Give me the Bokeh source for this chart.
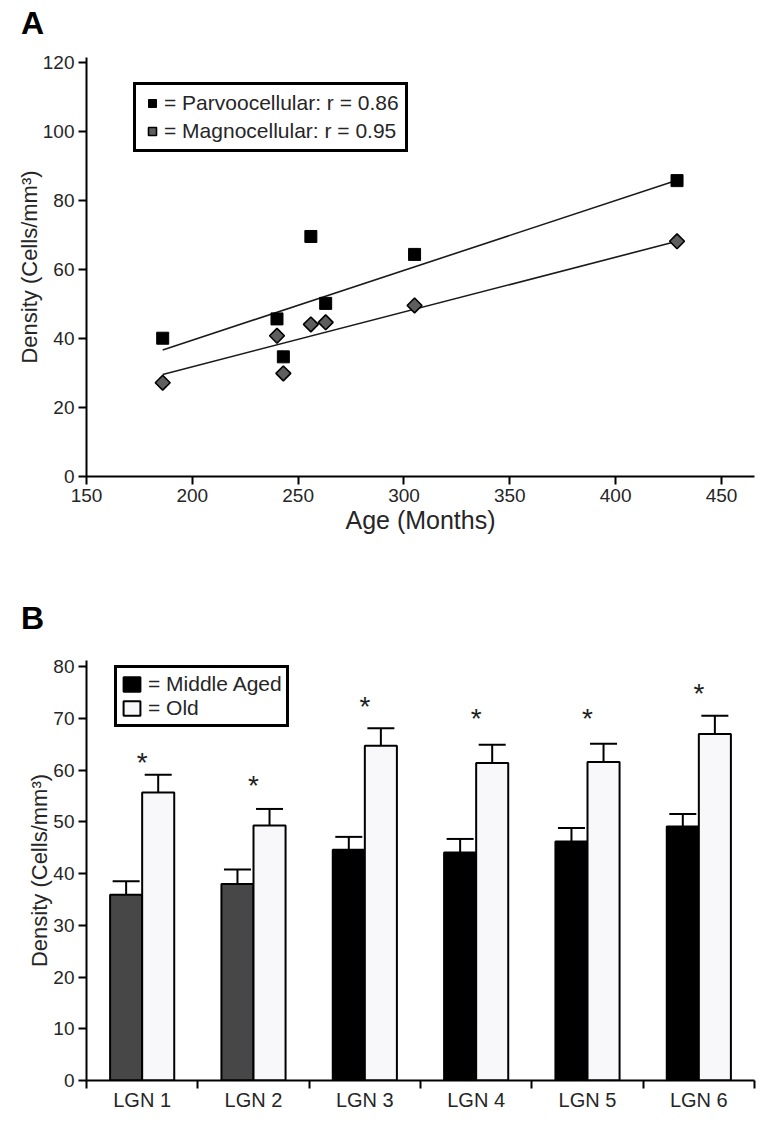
import numpy as np
from bokeh.plotting import figure
from bokeh.layouts import column
from bokeh.models import (Range1d, FixedTicker, Legend, LegendItem, Whisker, TeeHead,
                          ColumnDataSource, Div)
from bokeh.core.properties import value
from bokeh.embed import file_html
from bokeh.resources import INLINE

# ---------------- data: panel A ----------------
age_months = [186, 240, 243, 256, 263, 305, 429]
parvo_density = [40.1, 45.7, 34.7, 69.6, 50.2, 64.4, 85.8]
magno_density = [27.2, 40.8, 29.9, 44.1, 44.7, 49.6, 68.2]
fit_age = [186, 429]
parvo_fit = [36.7, 85.9]
magno_fit = [29.6, 68.2]
series_labels = ["= Parvoocellular: r = 0.86", "= Magnocellular: r = 0.95"]
a_xticks = [150, 200, 250, 300, 350, 400, 450]
a_yticks = [0, 20, 40, 60, 80, 100, 120]

# ---------------- data: panel B ----------------
lgn_layers = ["LGN 1", "LGN 2", "LGN 3", "LGN 4", "LGN 5", "LGN 6"]
middle_mean = [35.9, 38.0, 44.6, 44.1, 46.2, 49.1]
middle_err = [2.6, 2.8, 2.5, 2.6, 2.6, 2.4]
old_mean = [55.7, 49.3, 64.7, 61.4, 61.6, 67.0]
old_err = [3.4, 3.2, 3.4, 3.5, 3.5, 3.5]
star_level = [62.2, 57.8, 73.1, 70.7, 70.7, 75.5]
group_labels = ["= Middle Aged", "= Old"]
b_yticks = [0, 10, 20, 30, 40, 50, 60, 70, 80]

# ---------------- styles ----------------
FONT = "Liberation Sans"
TXT = "#262626"
middle_colors = ["#474747", "#474747", "black", "black", "black", "black"]


def style_fig(p):
    p.xgrid.visible = False
    p.ygrid.visible = False
    p.outline_line_color = None
    p.background_fill_color = "white"
    p.border_fill_color = "white"
    for ax in p.axis:
        ax.axis_line_width = 2
        ax.axis_line_color = "black"
        ax.major_tick_line_width = 2
        ax.major_tick_line_color = "black"
        ax.major_tick_in = 0
        ax.major_tick_out = 8
        ax.minor_tick_line_color = None
        ax.major_label_text_font = FONT
        ax.major_label_text_font_size = "19px"
        ax.major_label_text_color = TXT
        ax.axis_label_text_font = FONT
        ax.axis_label_text_font_size = "22px"
        ax.axis_label_text_font_style = "normal"
        ax.axis_label_text_color = TXT
        ax.major_label_standoff = 4


def panel_letter(letter, pad_top, height):
    html = ('<div style="font-family: \'Liberation Sans\'; font-size: 32px; font-weight: bold; '
            'line-height: 32px; margin: 0; padding: %dpx 0 0 21px; color: black;">%s</div>'
            % (pad_top, letter))
    return Div(text=html, width=764, height=height, margin=0)


# ================= Panel A =================
div_a = panel_letter("A", 7, 40)

pa = figure(width=764, height=526, x_range=Range1d(150, 465.6), y_range=Range1d(0, 121.5),
            output_backend="svg", toolbar_location=None,
            min_border_left=86, min_border_right=7, min_border_top=17, min_border_bottom=90)
style_fig(pa)
pa.xaxis.ticker = FixedTicker(ticks=a_xticks)
pa.yaxis.ticker = FixedTicker(ticks=a_yticks)
pa.xaxis.axis_label = "Age (Months)"
pa.yaxis.axis_label = "Density (Cells/mm³)"
pa.xaxis.axis_label_text_font_size = "25px"
pa.xaxis.axis_label_standoff = 1
pa.yaxis.axis_label_standoff = -2

pa.line(fit_age, parvo_fit, line_color="#1a1a1a", line_width=1.6)
pa.line(fit_age, magno_fit, line_color="#1a1a1a", line_width=1.6)
r_p = pa.scatter(age_months, parvo_density, marker="square", size=12,
                 fill_color="black", line_color="black", line_width=1)
r_m = pa.scatter(age_months, magno_density, marker="square", size=10.5, angle=np.pi / 4,
                 fill_color="#5e5e5e", line_color="black", line_width=1.6)

leg_a = Legend(items=[LegendItem(label=series_labels[0], renderers=[r_p]),
                      LegendItem(label=series_labels[1], renderers=[r_m])],
               location=(47, 324), margin=0, padding=6, spacing=4,
               glyph_width=20, glyph_height=20, label_standoff=2,
               border_line_color="black", border_line_width=3, border_line_alpha=1,
               label_text_font=FONT, label_text_font_size="21px", label_text_color=TXT,
               background_fill_color="white", background_fill_alpha=1)
pa.add_layout(leg_a)

# ================= Panel B =================
div_b = panel_letter("B", 36, 70)

x_center = np.arange(len(lgn_layers)) + 0.5
bar_w = 0.288
src_mid = ColumnDataSource(dict(x=x_center - bar_w / 2, top=middle_mean,
                                upper=np.array(middle_mean) + np.array(middle_err),
                                color=middle_colors))
src_old = ColumnDataSource(dict(x=x_center + bar_w / 2, top=old_mean,
                                upper=np.array(old_mean) + np.array(old_err)))

pb = figure(width=764, height=488, x_range=Range1d(0, len(lgn_layers)), y_range=Range1d(0, 81.2),
            output_backend="svg", toolbar_location=None,
            min_border_left=86, min_border_right=10, min_border_top=24, min_border_bottom=44)
style_fig(pb)
pb.yaxis.ticker = FixedTicker(ticks=b_yticks)
pb.yaxis.axis_label = "Density (Cells/mm³)"
pb.yaxis.axis_label_standoff = -2
pb.xaxis.ticker = FixedTicker(ticks=list(x_center), minor_ticks=list(range(len(lgn_layers) + 1)))
pb.xaxis.major_label_overrides = {float(c): lab for c, lab in zip(x_center, lgn_layers)}
pb.xaxis.major_label_text_font_size = "20px"
pb.xaxis.major_tick_line_color = None
pb.xaxis.minor_tick_line_color = "black"
pb.xaxis.minor_tick_line_width = 2
pb.xaxis.minor_tick_in = 0
pb.xaxis.minor_tick_out = 8
pb.xaxis.major_label_standoff = 0

r_mid = pb.vbar(x="x", top="top", bottom=0, width=bar_w, source=src_mid,
                fill_color="color", line_color="black", line_width=2)
r_old = pb.vbar(x="x", top="top", bottom=0, width=bar_w, source=src_old,
                fill_color="#f8f8fa", line_color="black", line_width=2)

for src in (src_mid, src_old):
    pb.add_layout(Whisker(source=src, base="x", lower="top", upper="upper", dimension="height",
                          lower_head=None,
                          upper_head=TeeHead(size=27, line_width=2, line_color="black"),
                          line_width=2, line_color="black", level="overlay"))

pb.text(x=x_center, y=star_level, text=["*"] * len(lgn_layers), text_font=value(FONT),
        text_font_size="28px", text_align="center", text_baseline="alphabetic",
        y_offset=4, text_color="#1e1e1e")

leg_b = Legend(items=[LegendItem(label=group_labels[0], renderers=[r_mid], index=2),
                      LegendItem(label=group_labels[1], renderers=[r_old], index=0)],
               location=(28, 353), margin=0, padding=4, spacing=0,
               glyph_width=21, glyph_height=18, label_standoff=6,
               border_line_color="black", border_line_width=3, border_line_alpha=1,
               label_text_font=FONT, label_text_font_size="21px", label_text_color=TXT,
               background_fill_color="white", background_fill_alpha=1)
pb.add_layout(leg_b)

layout = column(div_a, pa, div_b, pb)
open("out.html", "w").write(file_html(layout, INLINE))
